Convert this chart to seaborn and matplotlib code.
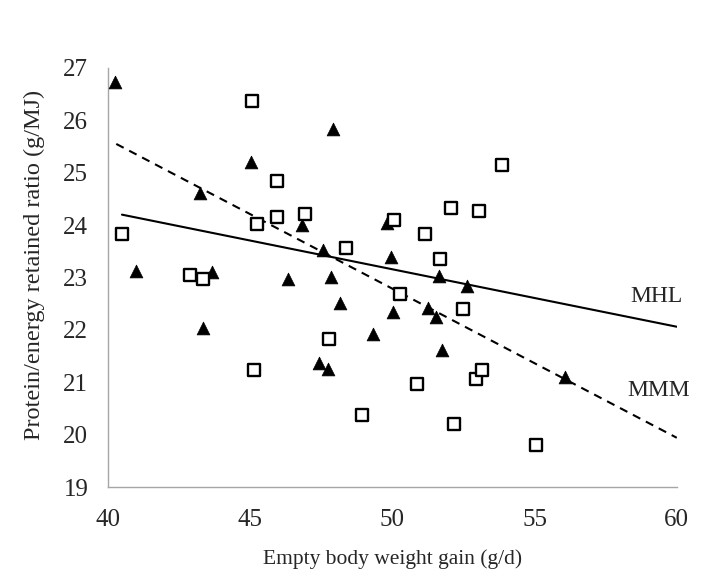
import matplotlib
matplotlib.use("Agg")
import matplotlib.pyplot as plt
import seaborn as sns
import pandas as pd

# triangles (filled)
tri_x = [40.26, 41.0, 43.25, 43.66, 43.34, 45.03, 46.33, 46.84, 47.44, 47.56, 47.73, 47.85,
         47.93, 48.17, 49.34, 49.83, 49.95, 50.04, 51.24, 51.54, 51.66, 51.74, 52.62, 56.07]
tri_y = [26.74, 23.13, 24.62, 23.11, 22.03, 25.21, 22.97, 24.00, 21.36, 23.52, 21.25, 23.01,
         25.83, 22.52, 21.93, 24.05, 23.39, 22.35, 22.41, 22.24, 23.03, 21.61, 22.84, 21.10]

# squares (open)
sq_x = [40.49, 42.89, 43.36, 45.06, 45.15, 45.26, 45.96, 45.96, 46.93, 47.77, 48.38, 48.95, 50.07,
        50.27, 50.86, 51.16, 51.68, 52.07, 52.17, 52.48, 52.95, 53.05, 53.15, 53.87, 55.05]
sq_y = [23.84, 23.05, 22.98, 26.37, 21.23, 24.03, 24.85, 24.16, 24.21, 21.82, 23.57, 20.37, 24.10,
        22.69, 20.97, 23.84, 23.36, 24.32, 20.20, 22.40, 21.06, 24.27, 21.23, 25.14, 19.80]

# trend lines
mhl_x = [40.5, 60.0]
mhl_y = [24.20, 22.06]
mmm_x = [40.3, 60.0]
mmm_y = [25.55, 19.94]

sns.set_style("white")
plt.rcParams["font.family"] = ["Liberation Serif", "DejaVu Serif"]

fig = plt.figure(figsize=(7.24, 5.8), dpi=100)
ax = fig.add_axes([0.1488, 0.1603, 0.786, 0.7225])

tri = pd.DataFrame({"x": tri_x, "y": tri_y})
sq = pd.DataFrame({"x": sq_x, "y": sq_y})

sns.lineplot(x=mhl_x, y=mhl_y, ax=ax, color="black", lw=1.5)
sns.lineplot(x=mmm_x, y=mmm_y, ax=ax, color="black", lw=1.5, linestyle=(0, (4, 3)))
sns.scatterplot(data=tri, x="x", y="y", marker="^", s=85, color="black",
                edgecolor="black", linewidth=0.5, ax=ax, zorder=3)
sns.scatterplot(data=sq, x="x", y="y", marker="s", s=70, facecolor="white",
                edgecolor="black", linewidth=1.7, ax=ax, zorder=3)

ax.text(59.3, 22.63, "MHL", ha="center", va="center", fontsize=17)
ax.text(59.35, 20.85, "MMM", ha="center", va="center", fontsize=17)

ax.set_xlim(40, 60)
ax.set_ylim(19, 27)
ax.set_xticks(range(40, 61, 5))
ax.set_yticks(range(19, 28))
ax.tick_params(axis="x", length=0, pad=16, labelsize=18)
ax.tick_params(axis="y", length=0, pad=14, labelsize=18)
for side in ["top", "right"]:
    ax.spines[side].set_visible(False)
for side in ["left", "bottom"]:
    ax.spines[side].set_color("#a6a6a6")
    ax.spines[side].set_linewidth(1.0)

ax.set_xlabel("Empty body weight gain (g/d)", fontsize=15.5, labelpad=13)
ax.set_ylabel("Protein/energy retained ratio (g/MJ)", fontsize=17.5)
ax.yaxis.set_label_coords(-0.11, 0.53)

fig.savefig("out.png", dpi=100)
